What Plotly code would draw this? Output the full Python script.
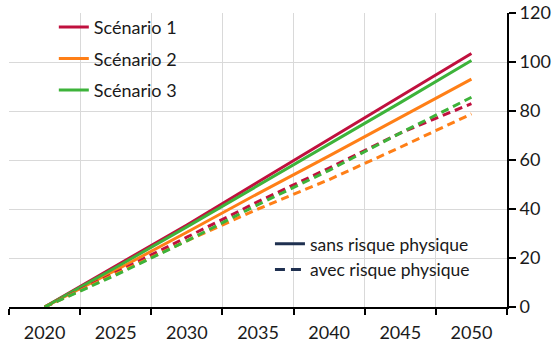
import plotly.graph_objects as go

years = [2020, 2025, 2030, 2035, 2040, 2045, 2050]

s1_sans = [0, 16.6, 33.5, 51.0, 68.5, 86.0, 103.5]
s2_sans = [0, 15.0, 30.5, 46.3, 61.7, 77.3, 93.0]
s3_sans = [0, 16.1, 32.7, 49.6, 66.4, 83.4, 100.6]

s1_avec = [0, 14.0, 28.5, 43.0, 56.7, 71.0, 83.0]
s2_avec = [0, 13.5, 27.0, 40.0, 52.0, 65.2, 78.8]
s3_avec = [0, 13.0, 27.0, 41.8, 55.8, 71.0, 85.6]

xtick_labels = ["2020", "2025", "2030", "2035", "2040", "2045", "2050"]
xtick_vals = [2020, 2025, 2030, 2035, 2040, 2045, 2050]
xbound_vals = [2017.5, 2022.5, 2027.5, 2032.5, 2037.5, 2042.5, 2047.5, 2052.5]
ytick_vals = [0, 20, 40, 60, 80, 100, 120]

names = ["Scénario 1", "Scénario 2", "Scénario 3"]
colors = ["#C0103E", "#FF7F17", "#3DB33A"]
navy = "#1F3050"

fig = go.Figure()
for i, (name, col, sans) in enumerate(zip(names, colors, [s1_sans, s2_sans, s3_sans])):
    fig.add_trace(go.Scatter(x=years, y=sans, mode="lines", name=name,
                             line=dict(color=col, width=3), legend="legend",
                             legendgroup=f"g{i}"))
for col, avec in zip(colors, [s1_avec, s2_avec, s3_avec]):
    fig.add_trace(go.Scatter(x=years, y=avec, mode="lines", showlegend=False,
                             line=dict(color=col, width=3, dash="8px,5px")))

fig.add_trace(go.Scatter(x=[None], y=[None], mode="lines", name="sans risque physique",
                         line=dict(color=navy, width=3), legend="legend2"))
fig.add_trace(go.Scatter(x=[None], y=[None], mode="lines", name="avec risque physique",
                         line=dict(color=navy, width=3, dash="10px,6px"), legend="legend2"))

font = dict(family="Lato", size=18, color="#1a1a1a")
fig.update_layout(
    width=558, height=342,
    margin=dict(l=9, r=51, t=13, b=35),
    paper_bgcolor="white", plot_bgcolor="white",
    font=font,
    showlegend=True,
    legend=dict(x=0.09, y=1.014, xanchor="left", yanchor="top", bgcolor="rgba(0,0,0,0)",
                font=dict(family="Lato", size=18, color="#1a1a1a"), tracegroupgap=5,
                traceorder="grouped"),
    legend2=dict(x=0.524, y=0.276, xanchor="left", yanchor="top", bgcolor="rgba(0,0,0,0)",
                 font=dict(family="Lato", size=17.5, color="#1a1a1a")),
    xaxis=dict(range=[2017.5, 2052.5], tickvals=xtick_vals, ticktext=xtick_labels,
               ticks="", showgrid=False, zeroline=False, ticklabelstandoff=8,
               showline=True, linecolor="black", linewidth=2, automargin=False,
               minor=dict(tickvals=xbound_vals, ticks="outside", ticklen=6, tickwidth=2,
                          tickcolor="black", showgrid=True, gridcolor="#D9D9D9", gridwidth=1.3),
               tickfont=font, fixedrange=True),
    yaxis=dict(range=[0, 120], tickvals=ytick_vals, side="right",
               showline=True, linecolor="black", linewidth=2, automargin=False,
               ticks="outside", ticklen=7, tickwidth=2, tickcolor="black",
               showgrid=True, gridcolor="#D9D9D9", gridwidth=1.3, zeroline=False,
               tickfont=font, fixedrange=True, ticklabeloverflow="allow"),
)

fig.write_html("out.html", config={"displayModeBar": False},
               post_script="document.body.style.margin='0';")
